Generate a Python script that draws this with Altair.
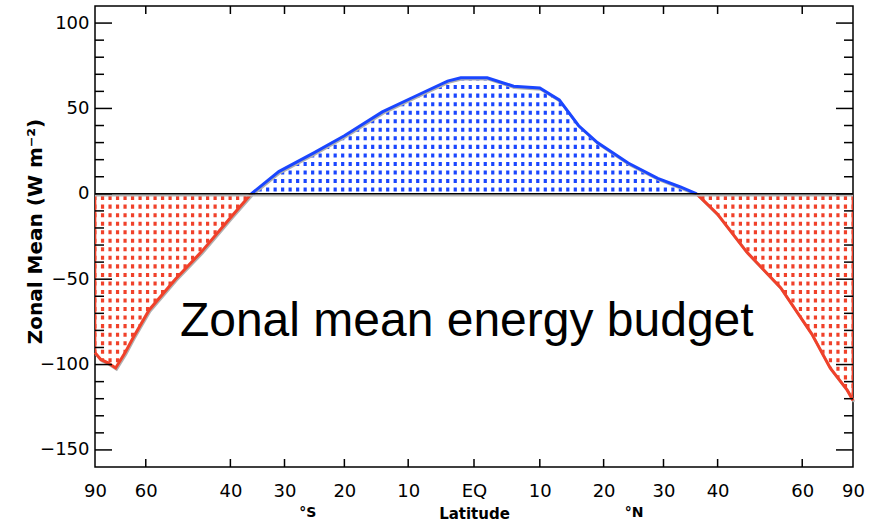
import altair as alt
import numpy as np
import pandas as pd

# ---- data ----
lats = [-90, -80, -75, -71, -67, -64, -59, -52, -46, -40, -36, -31, -25, -20, -14, -9, -4, -2,
        2, 6, 10, 13, 16, 19, 24, 29, 33, 36, 40, 46, 54, 63, 70, 80, 90]
vals = [-93, -97, -99, -102, -93, -84, -68, -50, -34, -14, 0, 13, 24, 34, 48, 57, 66, 68,
        68, 63, 62, 55, 40, 30, 18, 9, 4, 0, -12, -34, -55, -82, -102, -115, -121]

x_tick_lats = [-90, -60, -40, -30, -20, -10, 0, 10, 20, 30, 40, 60, 90]
y_major = [-150, -100, -50, 0, 50, 100]
y_minor = [-140, -130, -120, -110, -90, -80, -70, -60, -40, -30, -20, -10,
           10, 20, 30, 40, 60, 70, 80, 90]
hemis = ["°S", "°N"]
hemi_lats = [-26, 25]

RED = "#f0412a"
BLUE = "#1a46ff"

W, H = 758, 461

# build segmented table (zero crossings shared by neighbouring segments)
rows = []
for la, v in zip(lats, vals):
    if la <= -36:
        rows.append(dict(lat=la, v=v, seg="S", col=RED))
    if -36 <= la <= 36:
        rows.append(dict(lat=la, v=v, seg="T", col=BLUE))
    if la >= 36:
        rows.append(dict(lat=la, v=v, seg="N", col=RED))
df = pd.DataFrame(rows)
df["x"] = np.sin(np.radians(df["lat"]))

xscale = alt.Scale(domain=[-1, 1], nice=False, zero=False)
yscale = alt.Scale(domain=[-160, 110], nice=False, zero=False)
XT = "Latitude"
YT = "Zonal Mean (W m⁻²)"

x_axis = alt.Axis(
    values=[float(np.sin(np.radians(t))) for t in x_tick_lats],
    labelExpr="abs(datum.value) < 0.001 ? 'EQ' : format(abs(asin(datum.value))*180/PI, '.0f')",
    ticks=False, domain=False, grid=False, labelFlush=False, labelOverlap=False,
    labelFont="DejaVu Sans", labelFontSize=18, labelPadding=15, labelColor="black",
    titleFont="DejaVu Sans", titleFontSize=15, titleFontWeight="bold", titleColor="black",
    titleY=46, titleBaseline="middle",
)
y_axis = alt.Axis(
    values=y_major, ticks=False, domain=False, grid=False, labelOverlap=False,
    labelFont="DejaVu Sans", labelFontSize=18, labelPadding=6, labelColor="black",
    titleFont="DejaVu Sans", titleFontSize=20, titleFontWeight="bold", titleColor="black",
    titleX=-60, titleY=225, titleAngle=270, titleBaseline="middle", titleAlign="center",
)

base = alt.Chart(df)

area = base.mark_area(opacity=1, interpolate="linear").encode(
    x=alt.X("x:Q", scale=xscale, axis=x_axis, title=XT),
    y=alt.Y("v:Q", scale=yscale, axis=y_axis, title=YT),
    y2=alt.datum(0),
    color=alt.Color("col:N", scale=None),
    detail="seg:N",
)

# white grid over the fills -> dotted hatch texture
vgrid = alt.Chart(alt.sequence(start=-0.99, stop=1.0, step=0.0198, as_="s")).mark_rule(
    color="white", strokeWidth=4.3
).encode(
    x=alt.X("s:Q", scale=xscale, title=XT),
    y=alt.datum(-135), y2=alt.datum(80),
)
hgrid = alt.Chart(alt.sequence(start=-155, stop=105, step=5, as_="h")).mark_rule(
    color="white", strokeWidth=4.5
).encode(
    y=alt.Y("h:Q", scale=yscale, title=YT),
    x=alt.datum(-0.996), x2=alt.datum(0.996),
)

shadow = base.mark_line(color="#b0b0b0", strokeWidth=2.5, xOffset=1, yOffset=1.5).encode(
    x=alt.X("x:Q", scale=xscale, title=XT),
    y=alt.Y("v:Q", scale=yscale, title=YT),
    detail="seg:N",
)
line = base.mark_line(strokeWidth=3).encode(
    x=alt.X("x:Q", scale=xscale, title=XT),
    y=alt.Y("v:Q", scale=yscale, title=YT),
    color=alt.Color("col:N", scale=None),
    detail="seg:N",
)

zero_df = pd.DataFrame({"z": [0]})
zero_shadow = alt.Chart(zero_df).mark_rule(color="#b8b8b8", strokeWidth=2, yOffset=1.8).encode(
    y=alt.Y("z:Q", scale=yscale, title=YT), x=alt.value(0), x2=alt.value(W)
)
zero = alt.Chart(zero_df).mark_rule(color="black", strokeWidth=1.5).encode(
    y=alt.Y("z:Q", scale=yscale, title=YT), x=alt.value(0), x2=alt.value(W)
)

ymaj_df = pd.DataFrame({"t": y_major})
ymin_df = pd.DataFrame({"t": y_minor})
xt_df = pd.DataFrame({"t": np.sin(np.radians(x_tick_lats[1:-1]))})


def yticks(d, L):
    left = alt.Chart(d).mark_rule(color="black", strokeWidth=1.5).encode(
        y=alt.Y("t:Q", scale=yscale, title=YT), x=alt.value(0), x2=alt.value(L))
    right = alt.Chart(d).mark_rule(color="black", strokeWidth=1.5).encode(
        y=alt.Y("t:Q", scale=yscale, title=YT), x=alt.value(W), x2=alt.value(W - L))
    return left + right


xt_bot = alt.Chart(xt_df).mark_rule(color="black", strokeWidth=1.5).encode(
    x=alt.X("t:Q", scale=xscale, title=XT), y=alt.value(H), y2=alt.value(H - 8))
xt_top = alt.Chart(xt_df).mark_rule(color="black", strokeWidth=1.5).encode(
    x=alt.X("t:Q", scale=xscale, title=XT), y=alt.value(0), y2=alt.value(8))

hemi_df = pd.DataFrame({"t": hemis, "x": np.sin(np.radians(hemi_lats))})
hemi = alt.Chart(hemi_df).mark_text(
    font="DejaVu Sans", fontSize=14, fontWeight="bold", color="black", baseline="middle"
).encode(x=alt.X("x:Q", scale=xscale, title=XT), y=alt.value(H + 46), text="t:N")

anno = alt.Chart(zero_df).mark_text(
    text="Zonal mean energy budget", font="Liberation Sans", fontSize=48,
    color="black", align="left", baseline="alphabetic"
).encode(x=alt.datum(float(np.sin(np.radians(-50.9)))), y=alt.datum(-83))

chart = alt.layer(
    area, vgrid, hgrid, shadow, line, zero_shadow, zero,
    yticks(ymaj_df, 17), yticks(ymin_df, 9), xt_bot, xt_top, hemi, anno
).properties(
    width=W, height=H,
    autosize=alt.AutoSizeParams(type="none"),
    padding={"left": 95, "top": 6, "right": 24, "bottom": 56},
    background="white",
).configure_view(stroke="black", strokeWidth=1.5)

chart.save("out.html", embed_options={"renderer": "svg", "actions": False})
